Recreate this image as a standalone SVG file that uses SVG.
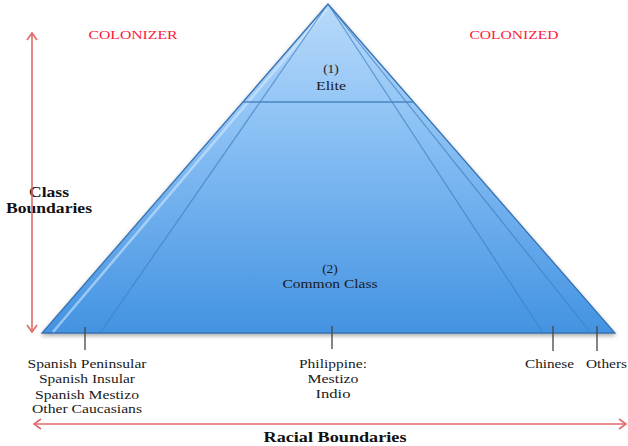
<svg xmlns="http://www.w3.org/2000/svg" width="628" height="446" viewBox="0 0 628 446">
<style>
.t{font-family:"Liberation Serif","DejaVu Serif","Times New Roman",serif;font-size:13.5px;fill:#1a1a1a;text-anchor:middle}
.r{font-family:"Liberation Serif","DejaVu Serif","Times New Roman",serif;font-size:13.5px;fill:#ff1a3a;text-anchor:middle}
.b{font-family:"Liberation Serif","DejaVu Serif","Times New Roman",serif;font-size:15px;font-weight:bold;fill:#111;text-anchor:middle}
.arr{stroke:#e06b6b;stroke-width:1.6;fill:none}
.tick{stroke:#444;stroke-width:1.3}
.inner{stroke:#3f7fc0;stroke-width:1.2;stroke-opacity:0.7;fill:none}
</style>
<defs>
<linearGradient id="g" x1="0" y1="0" x2="0" y2="1">
<stop offset="0" stop-color="#b8dafa"/>
<stop offset="0.35" stop-color="#8fc3f5"/>
<stop offset="1" stop-color="#4393e2"/>
</linearGradient>
<marker id="ah" markerWidth="12" markerHeight="12" refX="9" refY="6" orient="auto-start-reverse" markerUnits="userSpaceOnUse">
<path d="M2,1 L9,6 L2,11" fill="none" stroke="#e06b6b" stroke-width="1.6"/>
</marker>
<filter id="sh" x="-5%" y="-5%" width="110%" height="115%">
<feGaussianBlur in="SourceAlpha" stdDeviation="2"/>
<feOffset dy="2" result="o"/>
<feComponentTransfer><feFuncA type="linear" slope="0.35"/></feComponentTransfer>
<feMerge><feMergeNode/><feMergeNode in="SourceGraphic"/></feMerge>
</filter>
</defs>
<g id="pyramid">
<polygon points="328,4 42,333 615,333" fill="url(#g)" stroke="#3672b3" stroke-width="1.3" filter="url(#sh)"/>
<line x1="327" y1="9" x2="53" y2="332" stroke="#d8ecff" stroke-width="2.5" stroke-opacity="0.55"/>
<line class="inner" x1="328" y1="4" x2="100" y2="333"/>
<line class="inner" x1="328" y1="4" x2="543" y2="333"/>
<line class="inner" x1="328" y1="4" x2="591" y2="333"/>
</g>
<g id="elite">
<line x1="243" y1="102" x2="413" y2="102" stroke="#4a86c4" stroke-width="1.5"/>
<text class="t" x="331" y="73">(1)</text>
<text class="t" x="331" y="90" textLength="30" lengthAdjust="spacingAndGlyphs">Elite</text>
</g>
<g id="common">
<text class="t" x="330" y="273">(2)</text>
<text class="t" x="330" y="288" textLength="95" lengthAdjust="spacingAndGlyphs">Common Class</text>
</g>
<g id="labels">
<text class="r" x="133" y="39" textLength="89" lengthAdjust="spacingAndGlyphs">COLONIZER</text>
<text class="r" x="514" y="39" textLength="89" lengthAdjust="spacingAndGlyphs">COLONIZED</text>
<text class="b" x="49" y="197" textLength="40" lengthAdjust="spacingAndGlyphs">Class</text>
<text class="b" x="49" y="213" textLength="86" lengthAdjust="spacingAndGlyphs">Boundaries</text>
<text class="b" x="335" y="442" textLength="143" lengthAdjust="spacingAndGlyphs">Racial Boundaries</text>
</g>
<g id="spanish">
<text class="t" x="87" y="368" textLength="119" lengthAdjust="spacingAndGlyphs">Spanish Peninsular</text>
<text class="t" x="87" y="383" textLength="96" lengthAdjust="spacingAndGlyphs">Spanish Insular</text>
<text class="t" x="87" y="399" textLength="104" lengthAdjust="spacingAndGlyphs">Spanish Mestizo</text>
<text class="t" x="87" y="413" textLength="110" lengthAdjust="spacingAndGlyphs">Other Caucasians</text>
</g>
<g id="philippine">
<text class="t" x="333" y="368" textLength="68" lengthAdjust="spacingAndGlyphs">Philippine:</text>
<text class="t" x="333" y="383" textLength="51" lengthAdjust="spacingAndGlyphs">Mestizo</text>
<text class="t" x="333" y="398" textLength="35" lengthAdjust="spacingAndGlyphs">Indio</text>
</g>
<g id="chinese">
<text class="t" x="549.5" y="368" textLength="49" lengthAdjust="spacingAndGlyphs">Chinese</text>
</g>
<g id="others">
<text class="t" x="606.5" y="368" textLength="41" lengthAdjust="spacingAndGlyphs">Others</text>
</g>
<g id="connectors">
<line class="arr" x1="32" y1="33" x2="32" y2="332" marker-start="url(#ah)" marker-end="url(#ah)"/>
<line class="arr" x1="34" y1="424" x2="626" y2="424" marker-start="url(#ah)" marker-end="url(#ah)"/>
<line class="tick" x1="85" y1="327" x2="85" y2="350"/>
<line class="tick" x1="332" y1="326" x2="332" y2="349"/>
<line class="tick" x1="553" y1="326" x2="553" y2="351"/>
<line class="tick" x1="597" y1="326" x2="597" y2="351"/>
</g>
</svg>
